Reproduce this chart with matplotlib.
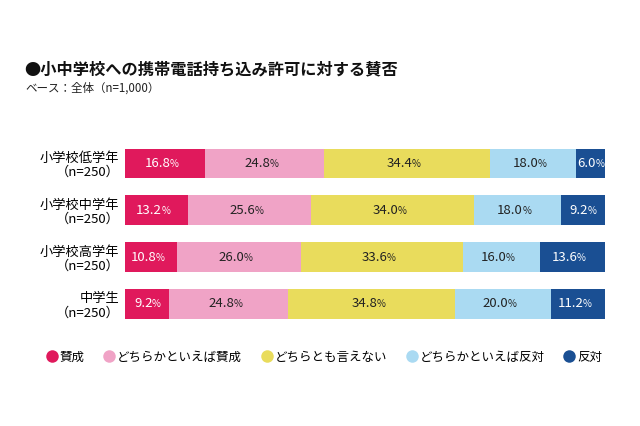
import numpy as np
import matplotlib.pyplot as plt
from matplotlib.lines import Line2D

plt.rcParams['font.family'] = ['Noto Sans CJK JP', 'DejaVu Sans']

# data
groups = ['小学校低学年\n（n=250）', '小学校中学年\n（n=250）', '小学校高学年\n（n=250）', '中学生\n（n=250）']
answers = ['賛成', 'どちらかといえば賛成', 'どちらとも言えない', 'どちらかといえば反対', '反対']
agree = [16.8, 13.2, 10.8, 9.2]
rather_agree = [24.8, 25.6, 26.0, 24.8]
neutral = [34.4, 34.0, 33.6, 34.8]
rather_disagree = [18.0, 18.0, 16.0, 20.0]
disagree = [6.0, 9.2, 13.6, 11.2]

colors = ['#E0195C', '#F0A3C6', '#E9DC5C', '#AADAF2', '#1A4F93']
text_colors = ['white', '#222222', '#222222', '#222222', 'white']

series = [agree, rather_agree, neutral, rather_disagree, disagree]

fig = plt.figure(figsize=(6.4, 4.26), dpi=100)
ax = fig.add_axes([0.195, 0.232, 0.75, 0.439])

y = np.arange(len(groups))
left = np.zeros(len(groups))
for vals, c, tc in zip(series, colors, text_colors):
    vals = np.array(vals)
    ax.barh(y, vals, left=left, height=0.64, color=c, edgecolor='none')
    for yi, (l, v) in enumerate(zip(left, vals)):
        cx = l + v / 2
        ax.annotate(f'{v:.1f}', (cx, yi), xytext=(4, 0), textcoords='offset points',
                    ha='right', va='center', fontsize=9.5, color=tc)
        ax.annotate('%', (cx, yi), xytext=(3.5, -0.5), textcoords='offset points',
                    ha='left', va='center', fontsize=7, color=tc)
    left += vals

ax.set_xlim(0, 100)
ax.set_ylim(3.5, -0.5)
ax.set_yticks(y)
ax.set_yticklabels(groups, fontsize=9.5, ha='right', linespacing=1.1)
ax.tick_params(axis='y', length=0, pad=4)
ax.set_xticks([])
for s in ax.spines.values():
    s.set_visible(False)

fig.text(0.038, 0.838, '●小中学校への携帯電話持ち込み許可に対する賛否', fontsize=11.7,
         fontweight='bold', va='center', color='#111111')
fig.text(0.04, 0.793, 'ベース：全体（n=1,000）', fontsize=8.3, va='center', color='#222222')

handles = [Line2D([0], [0], marker='o', linestyle='none', markersize=9,
                  markerfacecolor=c, markeredgecolor='none') for c in colors]
fig.legend(handles, answers, loc='center', bbox_to_anchor=(0.505, 0.162), ncol=5,
           frameon=False, fontsize=9, handletextpad=0.0, columnspacing=1.4,
           handlelength=1.2)

fig.savefig('out.png', dpi=100)
